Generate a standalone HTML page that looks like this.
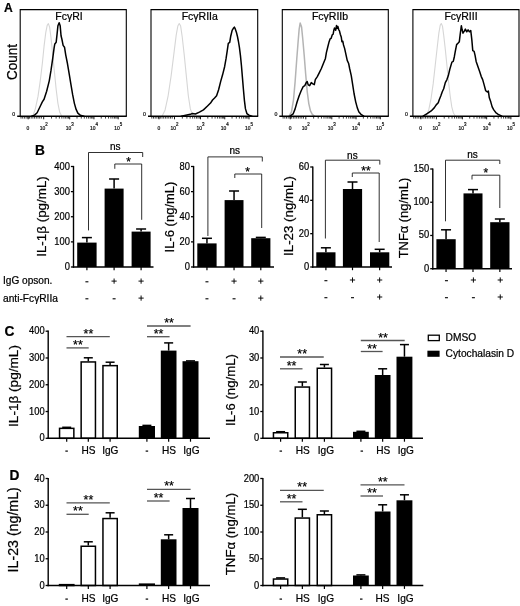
<!DOCTYPE html>
<html><head><meta charset="utf-8"><title>Figure</title>
<style>
html,body{margin:0;padding:0;background:#fff;}
body{width:520px;height:606px;overflow:hidden;font-family:"Liberation Sans", sans-serif;}
text{stroke:#000;stroke-width:0.22px;}
svg{display:block;font-family:"Liberation Sans", sans-serif;filter:blur(0.45px);}
</style></head><body>
<svg width="520" height="606" viewBox="0 0 520 606">
<rect x="0" y="0" width="520" height="606" fill="#fff"/>
<text transform="translate(4.00 11.80) scale(0.94 1)" x="0" y="0" font-size="12.9" text-anchor="start" font-weight="bold" fill="#000" >A</text>
<text transform="translate(16.90 62.00) rotate(-90) scale(0.93 1)" x="0" y="0" font-size="14.5" text-anchor="middle" font-weight="normal" fill="#000" >Count</text>
<polyline points="32.80,116.20 35.40,108.57 38.00,96.44 40.25,80.85 42.33,63.52 44.06,46.19 45.79,32.33 47.18,25.40 48.39,23.66 49.61,27.13 50.99,37.53 52.72,54.85 54.46,72.18 56.19,89.51 57.92,103.37 59.66,112.04 61.74,116.20" fill="none" stroke="#d6d6d6" stroke-width="1.1" stroke-linejoin="round" stroke-linecap="round"/>
<polyline points="31.58,116.20 34.53,115.16 37.13,112.73 40.60,105.45 42.33,101.81 44.06,99.21 46.66,91.24 49.26,80.85 50.99,70.45 52.72,58.32 54.11,47.92 54.80,43.94 56.19,42.20 57.06,34.06 57.92,25.74 59.14,22.80 60.18,25.74 61.04,35.79 61.91,39.26 63.12,45.32 64.51,47.23 65.72,54.85 67.45,63.52 69.19,73.92 70.92,84.31 72.65,94.71 74.38,103.37 76.12,109.44 77.85,113.08 80.45,115.33 83.92,116.20" fill="none" stroke="#000" stroke-width="1.5" stroke-linejoin="round" stroke-linecap="round"/>
<path d="M20.2,116.2 L20.2,9.6 L126.3,9.6 L126.3,116.2" fill="none" stroke="#000" stroke-width="1.1"/>
<line x1="17.20" y1="116.20" x2="126.80" y2="116.20" stroke="#000" stroke-width="1.45" />
<text x="69.00" y="19.90" font-size="10.5" text-anchor="middle" font-weight="normal" fill="#000" >FcγRI</text>
<text x="12.30" y="115.50" font-size="5.2" text-anchor="start" font-weight="normal" fill="#333" stroke="none">0</text>
<line x1="28.20" y1="116.20" x2="28.20" y2="119.30" stroke="#000" stroke-width="0.9" />
<line x1="43.70" y1="116.20" x2="43.70" y2="119.30" stroke="#000" stroke-width="0.9" />
<line x1="69.70" y1="116.20" x2="69.70" y2="119.30" stroke="#000" stroke-width="0.9" />
<line x1="93.95" y1="116.20" x2="93.95" y2="119.30" stroke="#000" stroke-width="0.9" />
<line x1="118.20" y1="116.20" x2="118.20" y2="119.30" stroke="#000" stroke-width="0.9" />
<line x1="51.53" y1="116.20" x2="51.53" y2="118.60" stroke="#000" stroke-width="0.75" />
<line x1="56.11" y1="116.20" x2="56.11" y2="118.60" stroke="#000" stroke-width="0.75" />
<line x1="59.35" y1="116.20" x2="59.35" y2="118.60" stroke="#000" stroke-width="0.75" />
<line x1="61.87" y1="116.20" x2="61.87" y2="118.60" stroke="#000" stroke-width="0.75" />
<line x1="63.93" y1="116.20" x2="63.93" y2="118.60" stroke="#000" stroke-width="0.75" />
<line x1="65.67" y1="116.20" x2="65.67" y2="118.60" stroke="#000" stroke-width="0.75" />
<line x1="67.18" y1="116.20" x2="67.18" y2="118.60" stroke="#000" stroke-width="0.75" />
<line x1="68.51" y1="116.20" x2="68.51" y2="118.60" stroke="#000" stroke-width="0.75" />
<line x1="77.00" y1="116.20" x2="77.00" y2="118.60" stroke="#000" stroke-width="0.75" />
<line x1="81.27" y1="116.20" x2="81.27" y2="118.60" stroke="#000" stroke-width="0.75" />
<line x1="84.30" y1="116.20" x2="84.30" y2="118.60" stroke="#000" stroke-width="0.75" />
<line x1="86.65" y1="116.20" x2="86.65" y2="118.60" stroke="#000" stroke-width="0.75" />
<line x1="88.57" y1="116.20" x2="88.57" y2="118.60" stroke="#000" stroke-width="0.75" />
<line x1="90.19" y1="116.20" x2="90.19" y2="118.60" stroke="#000" stroke-width="0.75" />
<line x1="91.60" y1="116.20" x2="91.60" y2="118.60" stroke="#000" stroke-width="0.75" />
<line x1="92.84" y1="116.20" x2="92.84" y2="118.60" stroke="#000" stroke-width="0.75" />
<line x1="101.25" y1="116.20" x2="101.25" y2="118.60" stroke="#000" stroke-width="0.75" />
<line x1="105.52" y1="116.20" x2="105.52" y2="118.60" stroke="#000" stroke-width="0.75" />
<line x1="108.55" y1="116.20" x2="108.55" y2="118.60" stroke="#000" stroke-width="0.75" />
<line x1="110.90" y1="116.20" x2="110.90" y2="118.60" stroke="#000" stroke-width="0.75" />
<line x1="112.82" y1="116.20" x2="112.82" y2="118.60" stroke="#000" stroke-width="0.75" />
<line x1="114.44" y1="116.20" x2="114.44" y2="118.60" stroke="#000" stroke-width="0.75" />
<line x1="115.85" y1="116.20" x2="115.85" y2="118.60" stroke="#000" stroke-width="0.75" />
<line x1="117.09" y1="116.20" x2="117.09" y2="118.60" stroke="#000" stroke-width="0.75" />
<line x1="21.00" y1="116.20" x2="21.00" y2="118.60" stroke="#000" stroke-width="0.75" />
<line x1="22.70" y1="116.20" x2="22.70" y2="118.60" stroke="#000" stroke-width="0.75" />
<line x1="24.40" y1="116.20" x2="24.40" y2="118.60" stroke="#000" stroke-width="0.75" />
<line x1="26.10" y1="116.20" x2="26.10" y2="118.60" stroke="#000" stroke-width="0.75" />
<line x1="27.80" y1="116.20" x2="27.80" y2="118.60" stroke="#000" stroke-width="0.75" />
<line x1="29.50" y1="116.20" x2="29.50" y2="118.60" stroke="#000" stroke-width="0.75" />
<line x1="31.20" y1="116.20" x2="31.20" y2="118.60" stroke="#000" stroke-width="0.75" />
<line x1="32.90" y1="116.20" x2="32.90" y2="118.60" stroke="#000" stroke-width="0.75" />
<line x1="34.60" y1="116.20" x2="34.60" y2="118.60" stroke="#000" stroke-width="0.75" />
<line x1="36.30" y1="116.20" x2="36.30" y2="118.60" stroke="#000" stroke-width="0.75" />
<line x1="38.00" y1="116.20" x2="38.00" y2="118.60" stroke="#000" stroke-width="0.75" />
<line x1="39.70" y1="116.20" x2="39.70" y2="118.60" stroke="#000" stroke-width="0.75" />
<line x1="41.40" y1="116.20" x2="41.40" y2="118.60" stroke="#000" stroke-width="0.75" />
<text transform="translate(28.00 129.60) scale(0.86 1)" x="0" y="0" font-size="5.8" text-anchor="middle" font-weight="normal" fill="#222" stroke="none">0</text>
<text transform="translate(42.50 129.60) scale(0.86 1)" x="0" y="0" font-size="5.8" text-anchor="middle" font-weight="normal" fill="#222" stroke="none">10</text>
<text transform="translate(45.20 126.40) scale(0.86 1)" x="0" y="0" font-size="5.2" text-anchor="start" font-weight="normal" fill="#222" stroke="none">2</text>
<text transform="translate(68.50 129.60) scale(0.86 1)" x="0" y="0" font-size="5.8" text-anchor="middle" font-weight="normal" fill="#222" stroke="none">10</text>
<text transform="translate(71.20 126.40) scale(0.86 1)" x="0" y="0" font-size="5.2" text-anchor="start" font-weight="normal" fill="#222" stroke="none">3</text>
<text transform="translate(92.75 129.60) scale(0.86 1)" x="0" y="0" font-size="5.8" text-anchor="middle" font-weight="normal" fill="#222" stroke="none">10</text>
<text transform="translate(95.45 126.40) scale(0.86 1)" x="0" y="0" font-size="5.2" text-anchor="start" font-weight="normal" fill="#222" stroke="none">4</text>
<text transform="translate(117.00 129.60) scale(0.86 1)" x="0" y="0" font-size="5.8" text-anchor="middle" font-weight="normal" fill="#222" stroke="none">10</text>
<text transform="translate(119.70 126.40) scale(0.86 1)" x="0" y="0" font-size="5.2" text-anchor="start" font-weight="normal" fill="#222" stroke="none">5</text>
<polyline points="162.07,116.17 165.10,109.91 168.13,95.78 171.16,75.58 174.18,51.35 176.20,35.19 177.82,26.11 179.23,23.48 180.65,26.11 182.26,37.21 184.28,55.39 186.30,75.58 188.32,95.78 190.34,108.90 192.36,114.35 194.38,116.17" fill="none" stroke="#d6d6d6" stroke-width="1.1" stroke-linejoin="round" stroke-linecap="round"/>
<polyline points="181.25,116.17 190.34,114.35 192.36,113.55 195.39,113.95 199.43,112.13 203.47,109.91 207.50,106.07 210.53,103.05 212.55,100.02 214.57,98.00 216.59,95.78 218.61,89.72 220.63,81.64 222.65,74.57 224.67,66.49 226.08,58.42 227.29,50.34 228.30,43.47 229.72,42.46 230.73,36.20 232.14,30.35 233.35,28.33 234.36,27.12 235.37,29.14 236.38,32.16 237.39,36.20 238.40,41.25 239.41,47.31 240.42,55.39 241.43,65.48 242.44,77.60 243.45,89.72 244.46,100.82 245.47,108.90 246.88,113.55 248.90,115.16 251.93,116.17" fill="none" stroke="#000" stroke-width="1.5" stroke-linejoin="round" stroke-linecap="round"/>
<path d="M151,116.2 L151,9.6 L257.7,9.6 L257.7,116.2" fill="none" stroke="#000" stroke-width="1.1"/>
<line x1="148.00" y1="116.20" x2="258.20" y2="116.20" stroke="#000" stroke-width="1.45" />
<text x="199.80" y="19.90" font-size="10.5" text-anchor="middle" font-weight="normal" fill="#000" >FcγRIIa</text>
<text x="143.10" y="115.50" font-size="5.2" text-anchor="start" font-weight="normal" fill="#333" stroke="none">0</text>
<line x1="159.00" y1="116.20" x2="159.00" y2="119.30" stroke="#000" stroke-width="0.9" />
<line x1="174.50" y1="116.20" x2="174.50" y2="119.30" stroke="#000" stroke-width="0.9" />
<line x1="200.50" y1="116.20" x2="200.50" y2="119.30" stroke="#000" stroke-width="0.9" />
<line x1="224.75" y1="116.20" x2="224.75" y2="119.30" stroke="#000" stroke-width="0.9" />
<line x1="249.00" y1="116.20" x2="249.00" y2="119.30" stroke="#000" stroke-width="0.9" />
<line x1="182.33" y1="116.20" x2="182.33" y2="118.60" stroke="#000" stroke-width="0.75" />
<line x1="186.91" y1="116.20" x2="186.91" y2="118.60" stroke="#000" stroke-width="0.75" />
<line x1="190.15" y1="116.20" x2="190.15" y2="118.60" stroke="#000" stroke-width="0.75" />
<line x1="192.67" y1="116.20" x2="192.67" y2="118.60" stroke="#000" stroke-width="0.75" />
<line x1="194.73" y1="116.20" x2="194.73" y2="118.60" stroke="#000" stroke-width="0.75" />
<line x1="196.47" y1="116.20" x2="196.47" y2="118.60" stroke="#000" stroke-width="0.75" />
<line x1="197.98" y1="116.20" x2="197.98" y2="118.60" stroke="#000" stroke-width="0.75" />
<line x1="199.31" y1="116.20" x2="199.31" y2="118.60" stroke="#000" stroke-width="0.75" />
<line x1="207.80" y1="116.20" x2="207.80" y2="118.60" stroke="#000" stroke-width="0.75" />
<line x1="212.07" y1="116.20" x2="212.07" y2="118.60" stroke="#000" stroke-width="0.75" />
<line x1="215.10" y1="116.20" x2="215.10" y2="118.60" stroke="#000" stroke-width="0.75" />
<line x1="217.45" y1="116.20" x2="217.45" y2="118.60" stroke="#000" stroke-width="0.75" />
<line x1="219.37" y1="116.20" x2="219.37" y2="118.60" stroke="#000" stroke-width="0.75" />
<line x1="220.99" y1="116.20" x2="220.99" y2="118.60" stroke="#000" stroke-width="0.75" />
<line x1="222.40" y1="116.20" x2="222.40" y2="118.60" stroke="#000" stroke-width="0.75" />
<line x1="223.64" y1="116.20" x2="223.64" y2="118.60" stroke="#000" stroke-width="0.75" />
<line x1="232.05" y1="116.20" x2="232.05" y2="118.60" stroke="#000" stroke-width="0.75" />
<line x1="236.32" y1="116.20" x2="236.32" y2="118.60" stroke="#000" stroke-width="0.75" />
<line x1="239.35" y1="116.20" x2="239.35" y2="118.60" stroke="#000" stroke-width="0.75" />
<line x1="241.70" y1="116.20" x2="241.70" y2="118.60" stroke="#000" stroke-width="0.75" />
<line x1="243.62" y1="116.20" x2="243.62" y2="118.60" stroke="#000" stroke-width="0.75" />
<line x1="245.24" y1="116.20" x2="245.24" y2="118.60" stroke="#000" stroke-width="0.75" />
<line x1="246.65" y1="116.20" x2="246.65" y2="118.60" stroke="#000" stroke-width="0.75" />
<line x1="247.89" y1="116.20" x2="247.89" y2="118.60" stroke="#000" stroke-width="0.75" />
<line x1="151.80" y1="116.20" x2="151.80" y2="118.60" stroke="#000" stroke-width="0.75" />
<line x1="153.50" y1="116.20" x2="153.50" y2="118.60" stroke="#000" stroke-width="0.75" />
<line x1="155.20" y1="116.20" x2="155.20" y2="118.60" stroke="#000" stroke-width="0.75" />
<line x1="156.90" y1="116.20" x2="156.90" y2="118.60" stroke="#000" stroke-width="0.75" />
<line x1="158.60" y1="116.20" x2="158.60" y2="118.60" stroke="#000" stroke-width="0.75" />
<line x1="160.30" y1="116.20" x2="160.30" y2="118.60" stroke="#000" stroke-width="0.75" />
<line x1="162.00" y1="116.20" x2="162.00" y2="118.60" stroke="#000" stroke-width="0.75" />
<line x1="163.70" y1="116.20" x2="163.70" y2="118.60" stroke="#000" stroke-width="0.75" />
<line x1="165.40" y1="116.20" x2="165.40" y2="118.60" stroke="#000" stroke-width="0.75" />
<line x1="167.10" y1="116.20" x2="167.10" y2="118.60" stroke="#000" stroke-width="0.75" />
<line x1="168.80" y1="116.20" x2="168.80" y2="118.60" stroke="#000" stroke-width="0.75" />
<line x1="170.50" y1="116.20" x2="170.50" y2="118.60" stroke="#000" stroke-width="0.75" />
<line x1="172.20" y1="116.20" x2="172.20" y2="118.60" stroke="#000" stroke-width="0.75" />
<text transform="translate(158.80 129.60) scale(0.86 1)" x="0" y="0" font-size="5.8" text-anchor="middle" font-weight="normal" fill="#222" stroke="none">0</text>
<text transform="translate(173.30 129.60) scale(0.86 1)" x="0" y="0" font-size="5.8" text-anchor="middle" font-weight="normal" fill="#222" stroke="none">10</text>
<text transform="translate(176.00 126.40) scale(0.86 1)" x="0" y="0" font-size="5.2" text-anchor="start" font-weight="normal" fill="#222" stroke="none">2</text>
<text transform="translate(199.30 129.60) scale(0.86 1)" x="0" y="0" font-size="5.8" text-anchor="middle" font-weight="normal" fill="#222" stroke="none">10</text>
<text transform="translate(202.00 126.40) scale(0.86 1)" x="0" y="0" font-size="5.2" text-anchor="start" font-weight="normal" fill="#222" stroke="none">3</text>
<text transform="translate(223.55 129.60) scale(0.86 1)" x="0" y="0" font-size="5.8" text-anchor="middle" font-weight="normal" fill="#222" stroke="none">10</text>
<text transform="translate(226.25 126.40) scale(0.86 1)" x="0" y="0" font-size="5.2" text-anchor="start" font-weight="normal" fill="#222" stroke="none">4</text>
<text transform="translate(247.80 129.60) scale(0.86 1)" x="0" y="0" font-size="5.8" text-anchor="middle" font-weight="normal" fill="#222" stroke="none">10</text>
<text transform="translate(250.50 126.40) scale(0.86 1)" x="0" y="0" font-size="5.2" text-anchor="start" font-weight="normal" fill="#222" stroke="none">5</text>
<polyline points="289.06,116.17 291.48,111.93 293.50,99.81 295.12,81.64 296.73,59.43 298.15,41.25 299.16,29.14 300.16,23.08 301.58,27.12 302.79,39.23 304.20,55.39 305.62,73.56 307.23,91.74 308.85,103.85 310.46,110.92 312.28,114.35 314.30,116.17" fill="none" stroke="#b4b4b4" stroke-width="1.5" stroke-linejoin="round" stroke-linecap="round"/>
<polyline points="290.07,116.17 293.10,113.95 295.12,108.90 297.14,101.83 299.16,95.78 301.17,90.73 303.19,86.69 304.81,85.68 306.22,82.65 307.23,81.64 308.24,84.87 309.66,85.68 311.27,82.65 312.89,83.86 314.30,84.67 315.31,79.62 317.33,76.59 319.35,72.55 321.37,68.51 323.39,63.47 325.41,58.42 326.44,52.42 327.77,47.03 329.12,41.66 330.07,38.95 331.14,38.28 332.21,34.91 333.16,34.24 333.83,30.21 334.51,27.92 335.18,29.54 335.73,30.21 336.53,25.50 337.34,28.19 337.87,26.57 338.67,29.54 339.48,30.87 340.29,34.24 341.24,36.93 341.91,41.66 342.85,41.37 343.52,45.01 344.61,48.38 347.22,60.44 348.63,63.47 349.64,68.51 351.26,75.58 352.67,84.67 354.08,93.76 355.70,101.83 357.31,107.89 358.93,111.93 360.95,114.35 363.78,116.17" fill="none" stroke="#000" stroke-width="1.5" stroke-linejoin="round" stroke-linecap="round"/>
<path d="M282.3,116.2 L282.3,9.6 L388.3,9.6 L388.3,116.2" fill="none" stroke="#000" stroke-width="1.1"/>
<line x1="279.30" y1="116.20" x2="388.80" y2="116.20" stroke="#000" stroke-width="1.45" />
<text x="330.00" y="19.90" font-size="10.5" text-anchor="middle" font-weight="normal" fill="#000" >FcγRIIb</text>
<text x="274.40" y="115.50" font-size="5.2" text-anchor="start" font-weight="normal" fill="#333" stroke="none">0</text>
<line x1="290.30" y1="116.20" x2="290.30" y2="119.30" stroke="#000" stroke-width="0.9" />
<line x1="305.80" y1="116.20" x2="305.80" y2="119.30" stroke="#000" stroke-width="0.9" />
<line x1="331.80" y1="116.20" x2="331.80" y2="119.30" stroke="#000" stroke-width="0.9" />
<line x1="356.05" y1="116.20" x2="356.05" y2="119.30" stroke="#000" stroke-width="0.9" />
<line x1="380.30" y1="116.20" x2="380.30" y2="119.30" stroke="#000" stroke-width="0.9" />
<line x1="313.63" y1="116.20" x2="313.63" y2="118.60" stroke="#000" stroke-width="0.75" />
<line x1="318.21" y1="116.20" x2="318.21" y2="118.60" stroke="#000" stroke-width="0.75" />
<line x1="321.45" y1="116.20" x2="321.45" y2="118.60" stroke="#000" stroke-width="0.75" />
<line x1="323.97" y1="116.20" x2="323.97" y2="118.60" stroke="#000" stroke-width="0.75" />
<line x1="326.03" y1="116.20" x2="326.03" y2="118.60" stroke="#000" stroke-width="0.75" />
<line x1="327.77" y1="116.20" x2="327.77" y2="118.60" stroke="#000" stroke-width="0.75" />
<line x1="329.28" y1="116.20" x2="329.28" y2="118.60" stroke="#000" stroke-width="0.75" />
<line x1="330.61" y1="116.20" x2="330.61" y2="118.60" stroke="#000" stroke-width="0.75" />
<line x1="339.10" y1="116.20" x2="339.10" y2="118.60" stroke="#000" stroke-width="0.75" />
<line x1="343.37" y1="116.20" x2="343.37" y2="118.60" stroke="#000" stroke-width="0.75" />
<line x1="346.40" y1="116.20" x2="346.40" y2="118.60" stroke="#000" stroke-width="0.75" />
<line x1="348.75" y1="116.20" x2="348.75" y2="118.60" stroke="#000" stroke-width="0.75" />
<line x1="350.67" y1="116.20" x2="350.67" y2="118.60" stroke="#000" stroke-width="0.75" />
<line x1="352.29" y1="116.20" x2="352.29" y2="118.60" stroke="#000" stroke-width="0.75" />
<line x1="353.70" y1="116.20" x2="353.70" y2="118.60" stroke="#000" stroke-width="0.75" />
<line x1="354.94" y1="116.20" x2="354.94" y2="118.60" stroke="#000" stroke-width="0.75" />
<line x1="363.35" y1="116.20" x2="363.35" y2="118.60" stroke="#000" stroke-width="0.75" />
<line x1="367.62" y1="116.20" x2="367.62" y2="118.60" stroke="#000" stroke-width="0.75" />
<line x1="370.65" y1="116.20" x2="370.65" y2="118.60" stroke="#000" stroke-width="0.75" />
<line x1="373.00" y1="116.20" x2="373.00" y2="118.60" stroke="#000" stroke-width="0.75" />
<line x1="374.92" y1="116.20" x2="374.92" y2="118.60" stroke="#000" stroke-width="0.75" />
<line x1="376.54" y1="116.20" x2="376.54" y2="118.60" stroke="#000" stroke-width="0.75" />
<line x1="377.95" y1="116.20" x2="377.95" y2="118.60" stroke="#000" stroke-width="0.75" />
<line x1="379.19" y1="116.20" x2="379.19" y2="118.60" stroke="#000" stroke-width="0.75" />
<line x1="283.10" y1="116.20" x2="283.10" y2="118.60" stroke="#000" stroke-width="0.75" />
<line x1="284.80" y1="116.20" x2="284.80" y2="118.60" stroke="#000" stroke-width="0.75" />
<line x1="286.50" y1="116.20" x2="286.50" y2="118.60" stroke="#000" stroke-width="0.75" />
<line x1="288.20" y1="116.20" x2="288.20" y2="118.60" stroke="#000" stroke-width="0.75" />
<line x1="289.90" y1="116.20" x2="289.90" y2="118.60" stroke="#000" stroke-width="0.75" />
<line x1="291.60" y1="116.20" x2="291.60" y2="118.60" stroke="#000" stroke-width="0.75" />
<line x1="293.30" y1="116.20" x2="293.30" y2="118.60" stroke="#000" stroke-width="0.75" />
<line x1="295.00" y1="116.20" x2="295.00" y2="118.60" stroke="#000" stroke-width="0.75" />
<line x1="296.70" y1="116.20" x2="296.70" y2="118.60" stroke="#000" stroke-width="0.75" />
<line x1="298.40" y1="116.20" x2="298.40" y2="118.60" stroke="#000" stroke-width="0.75" />
<line x1="300.10" y1="116.20" x2="300.10" y2="118.60" stroke="#000" stroke-width="0.75" />
<line x1="301.80" y1="116.20" x2="301.80" y2="118.60" stroke="#000" stroke-width="0.75" />
<line x1="303.50" y1="116.20" x2="303.50" y2="118.60" stroke="#000" stroke-width="0.75" />
<text transform="translate(290.10 129.60) scale(0.86 1)" x="0" y="0" font-size="5.8" text-anchor="middle" font-weight="normal" fill="#222" stroke="none">0</text>
<text transform="translate(304.60 129.60) scale(0.86 1)" x="0" y="0" font-size="5.8" text-anchor="middle" font-weight="normal" fill="#222" stroke="none">10</text>
<text transform="translate(307.30 126.40) scale(0.86 1)" x="0" y="0" font-size="5.2" text-anchor="start" font-weight="normal" fill="#222" stroke="none">2</text>
<text transform="translate(330.60 129.60) scale(0.86 1)" x="0" y="0" font-size="5.8" text-anchor="middle" font-weight="normal" fill="#222" stroke="none">10</text>
<text transform="translate(333.30 126.40) scale(0.86 1)" x="0" y="0" font-size="5.2" text-anchor="start" font-weight="normal" fill="#222" stroke="none">3</text>
<text transform="translate(354.85 129.60) scale(0.86 1)" x="0" y="0" font-size="5.8" text-anchor="middle" font-weight="normal" fill="#222" stroke="none">10</text>
<text transform="translate(357.55 126.40) scale(0.86 1)" x="0" y="0" font-size="5.2" text-anchor="start" font-weight="normal" fill="#222" stroke="none">4</text>
<text transform="translate(379.10 129.60) scale(0.86 1)" x="0" y="0" font-size="5.8" text-anchor="middle" font-weight="normal" fill="#222" stroke="none">10</text>
<text transform="translate(381.80 126.40) scale(0.86 1)" x="0" y="0" font-size="5.2" text-anchor="start" font-weight="normal" fill="#222" stroke="none">5</text>
<polyline points="426.13,116.17 428.75,109.91 431.17,97.79 433.19,83.66 435.21,65.48 437.23,47.31 438.85,33.17 440.26,25.10 441.27,23.48 442.48,26.11 443.69,35.19 445.31,49.33 446.93,65.48 448.54,81.64 450.16,95.78 451.77,106.88 453.39,112.94 455.41,116.17" fill="none" stroke="#d6d6d6" stroke-width="1.1" stroke-linejoin="round" stroke-linecap="round"/>
<polyline points="423.10,116.17 427.14,113.55 431.17,110.92 434.20,107.89 436.22,104.86 438.24,102.84 439.25,99.81 440.87,95.78 442.28,91.74 443.69,88.71 445.31,82.65 446.93,79.62 448.34,75.58 449.75,69.52 451.91,62.11 453.27,61.43 454.34,56.72 455.29,51.35 456.62,44.60 457.97,43.27 459.32,41.66 460.25,33.84 461.34,25.76 462.15,29.80 462.96,33.17 464.29,31.16 465.38,29.14 466.72,31.82 468.07,29.80 469.42,31.82 470.75,30.47 471.30,35.19 471.84,39.90 472.77,50.66 474.13,51.35 475.08,55.37 476.15,61.43 479.64,71.54 481.26,76.59 482.67,79.62 484.08,84.67 485.70,90.73 487.31,91.94 488.32,90.93 489.33,97.79 490.75,101.83 492.16,106.88 493.78,109.91 495.79,112.54 498.22,114.35 501.85,116.17" fill="none" stroke="#000" stroke-width="1.5" stroke-linejoin="round" stroke-linecap="round"/>
<path d="M412.9,116.2 L412.9,9.6 L519,9.6 L519,116.2" fill="none" stroke="#000" stroke-width="1.1"/>
<line x1="409.90" y1="116.20" x2="519.50" y2="116.20" stroke="#000" stroke-width="1.45" />
<text x="461.00" y="19.90" font-size="10.5" text-anchor="middle" font-weight="normal" fill="#000" >FcγRIII</text>
<text x="405.00" y="115.50" font-size="5.2" text-anchor="start" font-weight="normal" fill="#333" stroke="none">0</text>
<line x1="420.90" y1="116.20" x2="420.90" y2="119.30" stroke="#000" stroke-width="0.9" />
<line x1="436.40" y1="116.20" x2="436.40" y2="119.30" stroke="#000" stroke-width="0.9" />
<line x1="462.40" y1="116.20" x2="462.40" y2="119.30" stroke="#000" stroke-width="0.9" />
<line x1="486.65" y1="116.20" x2="486.65" y2="119.30" stroke="#000" stroke-width="0.9" />
<line x1="510.90" y1="116.20" x2="510.90" y2="119.30" stroke="#000" stroke-width="0.9" />
<line x1="444.23" y1="116.20" x2="444.23" y2="118.60" stroke="#000" stroke-width="0.75" />
<line x1="448.81" y1="116.20" x2="448.81" y2="118.60" stroke="#000" stroke-width="0.75" />
<line x1="452.05" y1="116.20" x2="452.05" y2="118.60" stroke="#000" stroke-width="0.75" />
<line x1="454.57" y1="116.20" x2="454.57" y2="118.60" stroke="#000" stroke-width="0.75" />
<line x1="456.63" y1="116.20" x2="456.63" y2="118.60" stroke="#000" stroke-width="0.75" />
<line x1="458.37" y1="116.20" x2="458.37" y2="118.60" stroke="#000" stroke-width="0.75" />
<line x1="459.88" y1="116.20" x2="459.88" y2="118.60" stroke="#000" stroke-width="0.75" />
<line x1="461.21" y1="116.20" x2="461.21" y2="118.60" stroke="#000" stroke-width="0.75" />
<line x1="469.70" y1="116.20" x2="469.70" y2="118.60" stroke="#000" stroke-width="0.75" />
<line x1="473.97" y1="116.20" x2="473.97" y2="118.60" stroke="#000" stroke-width="0.75" />
<line x1="477.00" y1="116.20" x2="477.00" y2="118.60" stroke="#000" stroke-width="0.75" />
<line x1="479.35" y1="116.20" x2="479.35" y2="118.60" stroke="#000" stroke-width="0.75" />
<line x1="481.27" y1="116.20" x2="481.27" y2="118.60" stroke="#000" stroke-width="0.75" />
<line x1="482.89" y1="116.20" x2="482.89" y2="118.60" stroke="#000" stroke-width="0.75" />
<line x1="484.30" y1="116.20" x2="484.30" y2="118.60" stroke="#000" stroke-width="0.75" />
<line x1="485.54" y1="116.20" x2="485.54" y2="118.60" stroke="#000" stroke-width="0.75" />
<line x1="493.95" y1="116.20" x2="493.95" y2="118.60" stroke="#000" stroke-width="0.75" />
<line x1="498.22" y1="116.20" x2="498.22" y2="118.60" stroke="#000" stroke-width="0.75" />
<line x1="501.25" y1="116.20" x2="501.25" y2="118.60" stroke="#000" stroke-width="0.75" />
<line x1="503.60" y1="116.20" x2="503.60" y2="118.60" stroke="#000" stroke-width="0.75" />
<line x1="505.52" y1="116.20" x2="505.52" y2="118.60" stroke="#000" stroke-width="0.75" />
<line x1="507.14" y1="116.20" x2="507.14" y2="118.60" stroke="#000" stroke-width="0.75" />
<line x1="508.55" y1="116.20" x2="508.55" y2="118.60" stroke="#000" stroke-width="0.75" />
<line x1="509.79" y1="116.20" x2="509.79" y2="118.60" stroke="#000" stroke-width="0.75" />
<line x1="413.70" y1="116.20" x2="413.70" y2="118.60" stroke="#000" stroke-width="0.75" />
<line x1="415.40" y1="116.20" x2="415.40" y2="118.60" stroke="#000" stroke-width="0.75" />
<line x1="417.10" y1="116.20" x2="417.10" y2="118.60" stroke="#000" stroke-width="0.75" />
<line x1="418.80" y1="116.20" x2="418.80" y2="118.60" stroke="#000" stroke-width="0.75" />
<line x1="420.50" y1="116.20" x2="420.50" y2="118.60" stroke="#000" stroke-width="0.75" />
<line x1="422.20" y1="116.20" x2="422.20" y2="118.60" stroke="#000" stroke-width="0.75" />
<line x1="423.90" y1="116.20" x2="423.90" y2="118.60" stroke="#000" stroke-width="0.75" />
<line x1="425.60" y1="116.20" x2="425.60" y2="118.60" stroke="#000" stroke-width="0.75" />
<line x1="427.30" y1="116.20" x2="427.30" y2="118.60" stroke="#000" stroke-width="0.75" />
<line x1="429.00" y1="116.20" x2="429.00" y2="118.60" stroke="#000" stroke-width="0.75" />
<line x1="430.70" y1="116.20" x2="430.70" y2="118.60" stroke="#000" stroke-width="0.75" />
<line x1="432.40" y1="116.20" x2="432.40" y2="118.60" stroke="#000" stroke-width="0.75" />
<line x1="434.10" y1="116.20" x2="434.10" y2="118.60" stroke="#000" stroke-width="0.75" />
<text transform="translate(420.70 129.60) scale(0.86 1)" x="0" y="0" font-size="5.8" text-anchor="middle" font-weight="normal" fill="#222" stroke="none">0</text>
<text transform="translate(435.20 129.60) scale(0.86 1)" x="0" y="0" font-size="5.8" text-anchor="middle" font-weight="normal" fill="#222" stroke="none">10</text>
<text transform="translate(437.90 126.40) scale(0.86 1)" x="0" y="0" font-size="5.2" text-anchor="start" font-weight="normal" fill="#222" stroke="none">2</text>
<text transform="translate(461.20 129.60) scale(0.86 1)" x="0" y="0" font-size="5.8" text-anchor="middle" font-weight="normal" fill="#222" stroke="none">10</text>
<text transform="translate(463.90 126.40) scale(0.86 1)" x="0" y="0" font-size="5.2" text-anchor="start" font-weight="normal" fill="#222" stroke="none">3</text>
<text transform="translate(485.45 129.60) scale(0.86 1)" x="0" y="0" font-size="5.8" text-anchor="middle" font-weight="normal" fill="#222" stroke="none">10</text>
<text transform="translate(488.15 126.40) scale(0.86 1)" x="0" y="0" font-size="5.2" text-anchor="start" font-weight="normal" fill="#222" stroke="none">4</text>
<text transform="translate(509.70 129.60) scale(0.86 1)" x="0" y="0" font-size="5.8" text-anchor="middle" font-weight="normal" fill="#222" stroke="none">10</text>
<text transform="translate(512.40 126.40) scale(0.86 1)" x="0" y="0" font-size="5.2" text-anchor="start" font-weight="normal" fill="#222" stroke="none">5</text>
<text transform="translate(35.00 155.30) scale(0.94 1)" x="0" y="0" font-size="14.6" text-anchor="start" font-weight="bold" fill="#000" >B</text>
<line x1="86.90" y1="242.60" x2="86.90" y2="237.60" stroke="#000" stroke-width="1.5" />
<line x1="81.90" y1="237.60" x2="91.90" y2="237.60" stroke="#000" stroke-width="1.5" />
<rect x="77.20" y="242.60" width="19.40" height="24.40" fill="#000"/>
<line x1="114.10" y1="188.60" x2="114.10" y2="179.00" stroke="#000" stroke-width="1.5" />
<line x1="109.10" y1="179.00" x2="119.10" y2="179.00" stroke="#000" stroke-width="1.5" />
<rect x="104.60" y="188.60" width="19.00" height="78.40" fill="#000"/>
<line x1="141.10" y1="231.60" x2="141.10" y2="229.00" stroke="#000" stroke-width="1.5" />
<line x1="136.10" y1="229.00" x2="146.10" y2="229.00" stroke="#000" stroke-width="1.5" />
<rect x="131.60" y="231.60" width="19.00" height="35.40" fill="#000"/>
<line x1="73.50" y1="165.90" x2="73.50" y2="267.70" stroke="#000" stroke-width="1.4" />
<line x1="72.80" y1="267.00" x2="153.50" y2="267.00" stroke="#000" stroke-width="1.4" />
<line x1="70.90" y1="267.00" x2="73.50" y2="267.00" stroke="#000" stroke-width="1.3" />
<text transform="translate(69.90 270.00) scale(0.9 1)" x="0" y="0" font-size="10.4" text-anchor="end" font-weight="normal" fill="#000" >0</text>
<line x1="70.90" y1="241.88" x2="73.50" y2="241.88" stroke="#000" stroke-width="1.3" />
<text transform="translate(69.90 244.88) scale(0.9 1)" x="0" y="0" font-size="10.4" text-anchor="end" font-weight="normal" fill="#000" >100</text>
<line x1="70.90" y1="216.75" x2="73.50" y2="216.75" stroke="#000" stroke-width="1.3" />
<text transform="translate(69.90 219.75) scale(0.9 1)" x="0" y="0" font-size="10.4" text-anchor="end" font-weight="normal" fill="#000" >200</text>
<line x1="70.90" y1="191.62" x2="73.50" y2="191.62" stroke="#000" stroke-width="1.3" />
<text transform="translate(69.90 194.62) scale(0.9 1)" x="0" y="0" font-size="10.4" text-anchor="end" font-weight="normal" fill="#000" >300</text>
<line x1="70.90" y1="166.50" x2="73.50" y2="166.50" stroke="#000" stroke-width="1.3" />
<text transform="translate(69.90 169.50) scale(0.9 1)" x="0" y="0" font-size="10.4" text-anchor="end" font-weight="normal" fill="#000" >400</text>
<line x1="86.90" y1="267.00" x2="86.90" y2="270.20" stroke="#000" stroke-width="1.2" />
<line x1="114.10" y1="267.00" x2="114.10" y2="270.20" stroke="#000" stroke-width="1.2" />
<line x1="141.10" y1="267.00" x2="141.10" y2="270.20" stroke="#000" stroke-width="1.2" />
<text x="46.20" y="216.50" font-size="13.4" text-anchor="middle" font-weight="normal" fill="#000" transform="rotate(-90 46.20 216.50)" >IL-1β (pg/mL)</text>
<path d="M88.5,230.4 L88.5,152.5 L142.7,152.5 L142.7,157" fill="none" stroke="#1a1a1a" stroke-width="0.9"/>
<path d="M114.8,168.8 L114.8,164 L141.7,164 L141.7,219.8" fill="none" stroke="#1a1a1a" stroke-width="0.9"/>
<text x="115.20" y="149.80" font-size="10" text-anchor="middle" font-weight="normal" fill="#000" >ns</text>
<text x="128.70" y="166.20" font-size="12" text-anchor="middle" font-weight="normal" fill="#000" >*</text>
<line x1="85.40" y1="281.80" x2="88.40" y2="281.80" stroke="#000" stroke-width="1.1" />
<line x1="85.40" y1="298.80" x2="88.40" y2="298.80" stroke="#000" stroke-width="1.1" />
<line x1="111.50" y1="281.10" x2="116.70" y2="281.10" stroke="#000" stroke-width="0.95" />
<line x1="114.10" y1="278.50" x2="114.10" y2="283.70" stroke="#000" stroke-width="0.95" />
<line x1="112.60" y1="298.80" x2="115.60" y2="298.80" stroke="#000" stroke-width="1.1" />
<line x1="138.50" y1="281.10" x2="143.70" y2="281.10" stroke="#000" stroke-width="0.95" />
<line x1="141.10" y1="278.50" x2="141.10" y2="283.70" stroke="#000" stroke-width="0.95" />
<line x1="138.50" y1="298.10" x2="143.70" y2="298.10" stroke="#000" stroke-width="0.95" />
<line x1="141.10" y1="295.50" x2="141.10" y2="300.70" stroke="#000" stroke-width="0.95" />
<line x1="206.95" y1="243.40" x2="206.95" y2="238.30" stroke="#000" stroke-width="1.5" />
<line x1="201.95" y1="238.30" x2="211.95" y2="238.30" stroke="#000" stroke-width="1.5" />
<rect x="197.30" y="243.40" width="19.30" height="23.60" fill="#000"/>
<line x1="234.05" y1="200.10" x2="234.05" y2="191.00" stroke="#000" stroke-width="1.5" />
<line x1="229.05" y1="191.00" x2="239.05" y2="191.00" stroke="#000" stroke-width="1.5" />
<rect x="224.60" y="200.10" width="18.90" height="66.90" fill="#000"/>
<line x1="260.80" y1="238.20" x2="260.80" y2="237.40" stroke="#000" stroke-width="1.5" />
<line x1="255.80" y1="237.40" x2="265.80" y2="237.40" stroke="#000" stroke-width="1.5" />
<rect x="251.20" y="238.20" width="19.20" height="28.80" fill="#000"/>
<line x1="193.60" y1="165.90" x2="193.60" y2="267.70" stroke="#000" stroke-width="1.4" />
<line x1="192.90" y1="267.00" x2="274.00" y2="267.00" stroke="#000" stroke-width="1.4" />
<line x1="191.00" y1="267.00" x2="193.60" y2="267.00" stroke="#000" stroke-width="1.3" />
<text transform="translate(190.00 270.00) scale(0.9 1)" x="0" y="0" font-size="10.4" text-anchor="end" font-weight="normal" fill="#000" >0</text>
<line x1="191.00" y1="241.88" x2="193.60" y2="241.88" stroke="#000" stroke-width="1.3" />
<text transform="translate(190.00 244.88) scale(0.9 1)" x="0" y="0" font-size="10.4" text-anchor="end" font-weight="normal" fill="#000" >20</text>
<line x1="191.00" y1="216.75" x2="193.60" y2="216.75" stroke="#000" stroke-width="1.3" />
<text transform="translate(190.00 219.75) scale(0.9 1)" x="0" y="0" font-size="10.4" text-anchor="end" font-weight="normal" fill="#000" >40</text>
<line x1="191.00" y1="191.62" x2="193.60" y2="191.62" stroke="#000" stroke-width="1.3" />
<text transform="translate(190.00 194.62) scale(0.9 1)" x="0" y="0" font-size="10.4" text-anchor="end" font-weight="normal" fill="#000" >60</text>
<line x1="191.00" y1="166.50" x2="193.60" y2="166.50" stroke="#000" stroke-width="1.3" />
<text transform="translate(190.00 169.50) scale(0.9 1)" x="0" y="0" font-size="10.4" text-anchor="end" font-weight="normal" fill="#000" >80</text>
<line x1="206.95" y1="267.00" x2="206.95" y2="270.20" stroke="#000" stroke-width="1.2" />
<line x1="234.05" y1="267.00" x2="234.05" y2="270.20" stroke="#000" stroke-width="1.2" />
<line x1="260.80" y1="267.00" x2="260.80" y2="270.20" stroke="#000" stroke-width="1.2" />
<text x="173.80" y="217.00" font-size="13" text-anchor="middle" font-weight="normal" fill="#000" transform="rotate(-90 173.80 217.00)" >IL-6 (ng/mL)</text>
<path d="M207.9,236 L207.9,156.9 L262.3,156.9 L262.3,161.5" fill="none" stroke="#1a1a1a" stroke-width="0.9"/>
<path d="M234.8,178 L234.8,174 L261.7,174 L261.7,228" fill="none" stroke="#1a1a1a" stroke-width="0.9"/>
<text x="234.80" y="154.40" font-size="10" text-anchor="middle" font-weight="normal" fill="#000" >ns</text>
<text x="247.70" y="176.00" font-size="12" text-anchor="middle" font-weight="normal" fill="#000" >*</text>
<line x1="205.45" y1="281.80" x2="208.45" y2="281.80" stroke="#000" stroke-width="1.1" />
<line x1="205.45" y1="298.80" x2="208.45" y2="298.80" stroke="#000" stroke-width="1.1" />
<line x1="231.45" y1="281.10" x2="236.65" y2="281.10" stroke="#000" stroke-width="0.95" />
<line x1="234.05" y1="278.50" x2="234.05" y2="283.70" stroke="#000" stroke-width="0.95" />
<line x1="232.55" y1="298.80" x2="235.55" y2="298.80" stroke="#000" stroke-width="1.1" />
<line x1="258.20" y1="281.10" x2="263.40" y2="281.10" stroke="#000" stroke-width="0.95" />
<line x1="260.80" y1="278.50" x2="260.80" y2="283.70" stroke="#000" stroke-width="0.95" />
<line x1="258.20" y1="298.10" x2="263.40" y2="298.10" stroke="#000" stroke-width="0.95" />
<line x1="260.80" y1="295.50" x2="260.80" y2="300.70" stroke="#000" stroke-width="0.95" />
<line x1="325.90" y1="252.30" x2="325.90" y2="247.80" stroke="#000" stroke-width="1.5" />
<line x1="320.90" y1="247.80" x2="330.90" y2="247.80" stroke="#000" stroke-width="1.5" />
<rect x="316.30" y="252.30" width="19.20" height="14.70" fill="#000"/>
<line x1="352.50" y1="189.00" x2="352.50" y2="182.00" stroke="#000" stroke-width="1.5" />
<line x1="347.50" y1="182.00" x2="357.50" y2="182.00" stroke="#000" stroke-width="1.5" />
<rect x="342.90" y="189.00" width="19.20" height="78.00" fill="#000"/>
<line x1="379.65" y1="252.30" x2="379.65" y2="249.30" stroke="#000" stroke-width="1.5" />
<line x1="374.65" y1="249.30" x2="384.65" y2="249.30" stroke="#000" stroke-width="1.5" />
<rect x="370.00" y="252.30" width="19.30" height="14.70" fill="#000"/>
<line x1="312.80" y1="166.40" x2="312.80" y2="267.70" stroke="#000" stroke-width="1.4" />
<line x1="312.10" y1="267.00" x2="392.00" y2="267.00" stroke="#000" stroke-width="1.4" />
<line x1="310.20" y1="267.00" x2="312.80" y2="267.00" stroke="#000" stroke-width="1.3" />
<text transform="translate(309.20 270.00) scale(0.9 1)" x="0" y="0" font-size="10.4" text-anchor="end" font-weight="normal" fill="#000" >0</text>
<line x1="310.20" y1="233.67" x2="312.80" y2="233.67" stroke="#000" stroke-width="1.3" />
<text transform="translate(309.20 236.67) scale(0.9 1)" x="0" y="0" font-size="10.4" text-anchor="end" font-weight="normal" fill="#000" >20</text>
<line x1="310.20" y1="200.33" x2="312.80" y2="200.33" stroke="#000" stroke-width="1.3" />
<text transform="translate(309.20 203.33) scale(0.9 1)" x="0" y="0" font-size="10.4" text-anchor="end" font-weight="normal" fill="#000" >40</text>
<line x1="310.20" y1="167.00" x2="312.80" y2="167.00" stroke="#000" stroke-width="1.3" />
<text transform="translate(309.20 170.00) scale(0.9 1)" x="0" y="0" font-size="10.4" text-anchor="end" font-weight="normal" fill="#000" >60</text>
<line x1="325.90" y1="267.00" x2="325.90" y2="270.20" stroke="#000" stroke-width="1.2" />
<line x1="352.50" y1="267.00" x2="352.50" y2="270.20" stroke="#000" stroke-width="1.2" />
<line x1="379.65" y1="267.00" x2="379.65" y2="270.20" stroke="#000" stroke-width="1.2" />
<text x="293.20" y="216.00" font-size="13.3" text-anchor="middle" font-weight="normal" fill="#000" transform="rotate(-90 293.20 216.00)" >IL-23 (ng/mL)</text>
<path d="M325.4,238.5 L325.4,160.2 L379.8,160.2 L379.8,164.6" fill="none" stroke="#1a1a1a" stroke-width="0.9"/>
<path d="M352.3,177 L352.3,173 L379.2,173 L379.2,242" fill="none" stroke="#1a1a1a" stroke-width="0.9"/>
<text x="352.40" y="158.80" font-size="10" text-anchor="middle" font-weight="normal" fill="#000" >ns</text>
<text x="365.90" y="175.20" font-size="12" text-anchor="middle" font-weight="normal" fill="#000" >**</text>
<line x1="324.40" y1="280.70" x2="327.40" y2="280.70" stroke="#000" stroke-width="1.1" />
<line x1="324.40" y1="297.70" x2="327.40" y2="297.70" stroke="#000" stroke-width="1.1" />
<line x1="349.90" y1="280.00" x2="355.10" y2="280.00" stroke="#000" stroke-width="0.95" />
<line x1="352.50" y1="277.40" x2="352.50" y2="282.60" stroke="#000" stroke-width="0.95" />
<line x1="351.00" y1="297.70" x2="354.00" y2="297.70" stroke="#000" stroke-width="1.1" />
<line x1="377.05" y1="280.00" x2="382.25" y2="280.00" stroke="#000" stroke-width="0.95" />
<line x1="379.65" y1="277.40" x2="379.65" y2="282.60" stroke="#000" stroke-width="0.95" />
<line x1="377.05" y1="297.00" x2="382.25" y2="297.00" stroke="#000" stroke-width="0.95" />
<line x1="379.65" y1="294.40" x2="379.65" y2="299.60" stroke="#000" stroke-width="0.95" />
<line x1="446.05" y1="239.20" x2="446.05" y2="229.80" stroke="#000" stroke-width="1.5" />
<line x1="441.05" y1="229.80" x2="451.05" y2="229.80" stroke="#000" stroke-width="1.5" />
<rect x="436.40" y="239.20" width="19.30" height="29.50" fill="#000"/>
<line x1="473.00" y1="193.40" x2="473.00" y2="189.60" stroke="#000" stroke-width="1.5" />
<line x1="468.00" y1="189.60" x2="478.00" y2="189.60" stroke="#000" stroke-width="1.5" />
<rect x="463.50" y="193.40" width="19.00" height="75.30" fill="#000"/>
<line x1="499.85" y1="222.20" x2="499.85" y2="219.00" stroke="#000" stroke-width="1.5" />
<line x1="494.85" y1="219.00" x2="504.85" y2="219.00" stroke="#000" stroke-width="1.5" />
<rect x="490.20" y="222.20" width="19.30" height="46.50" fill="#000"/>
<line x1="432.80" y1="168.40" x2="432.80" y2="269.40" stroke="#000" stroke-width="1.4" />
<line x1="432.10" y1="268.70" x2="512.00" y2="268.70" stroke="#000" stroke-width="1.4" />
<line x1="430.20" y1="268.70" x2="432.80" y2="268.70" stroke="#000" stroke-width="1.3" />
<text transform="translate(429.20 271.70) scale(0.9 1)" x="0" y="0" font-size="10.4" text-anchor="end" font-weight="normal" fill="#000" >0</text>
<line x1="430.20" y1="235.47" x2="432.80" y2="235.47" stroke="#000" stroke-width="1.3" />
<text transform="translate(429.20 238.47) scale(0.9 1)" x="0" y="0" font-size="10.4" text-anchor="end" font-weight="normal" fill="#000" >50</text>
<line x1="430.20" y1="202.23" x2="432.80" y2="202.23" stroke="#000" stroke-width="1.3" />
<text transform="translate(429.20 205.23) scale(0.9 1)" x="0" y="0" font-size="10.4" text-anchor="end" font-weight="normal" fill="#000" >100</text>
<line x1="430.20" y1="169.00" x2="432.80" y2="169.00" stroke="#000" stroke-width="1.3" />
<text transform="translate(429.20 172.00) scale(0.9 1)" x="0" y="0" font-size="10.4" text-anchor="end" font-weight="normal" fill="#000" >150</text>
<line x1="446.05" y1="268.70" x2="446.05" y2="271.90" stroke="#000" stroke-width="1.2" />
<line x1="473.00" y1="268.70" x2="473.00" y2="271.90" stroke="#000" stroke-width="1.2" />
<line x1="499.85" y1="268.70" x2="499.85" y2="271.90" stroke="#000" stroke-width="1.2" />
<text x="408.30" y="218.00" font-size="12.9" text-anchor="middle" font-weight="normal" fill="#000" transform="rotate(-90 408.30 218.00)" >TNFα (ng/mL)</text>
<path d="M445.5,221.3 L445.5,160.2 L499.8,160.2 L499.8,164" fill="none" stroke="#1a1a1a" stroke-width="0.9"/>
<path d="M472,179.5 L472,175.2 L499.8,175.2 L499.8,208" fill="none" stroke="#1a1a1a" stroke-width="0.9"/>
<text x="472.50" y="158.40" font-size="10" text-anchor="middle" font-weight="normal" fill="#000" >ns</text>
<text x="485.90" y="177.20" font-size="12" text-anchor="middle" font-weight="normal" fill="#000" >*</text>
<line x1="444.95" y1="280.70" x2="447.95" y2="280.70" stroke="#000" stroke-width="1.1" />
<line x1="444.95" y1="297.70" x2="447.95" y2="297.70" stroke="#000" stroke-width="1.1" />
<line x1="470.80" y1="280.00" x2="476.00" y2="280.00" stroke="#000" stroke-width="0.95" />
<line x1="473.40" y1="277.40" x2="473.40" y2="282.60" stroke="#000" stroke-width="0.95" />
<line x1="471.90" y1="297.70" x2="474.90" y2="297.70" stroke="#000" stroke-width="1.1" />
<line x1="497.65" y1="280.00" x2="502.85" y2="280.00" stroke="#000" stroke-width="0.95" />
<line x1="500.25" y1="277.40" x2="500.25" y2="282.60" stroke="#000" stroke-width="0.95" />
<line x1="497.65" y1="297.00" x2="502.85" y2="297.00" stroke="#000" stroke-width="0.95" />
<line x1="500.25" y1="294.40" x2="500.25" y2="299.60" stroke="#000" stroke-width="0.95" />
<text x="3.00" y="283.90" font-size="10.1" text-anchor="start" font-weight="normal" fill="#000" >IgG opson.</text>
<text x="3.00" y="302.10" font-size="10.2" text-anchor="start" font-weight="normal" fill="#000" >anti-FcγRIIa</text>
<text transform="translate(4.60 336.00) scale(0.94 1)" x="0" y="0" font-size="14.6" text-anchor="start" font-weight="bold" fill="#000" >C</text>
<line x1="66.70" y1="427.60" x2="66.70" y2="427.30" stroke="#000" stroke-width="1.5" />
<line x1="62.20" y1="427.30" x2="71.20" y2="427.30" stroke="#000" stroke-width="1.5" />
<rect x="59.55" y="428.35" width="14.30" height="9.95" fill="#fff" stroke="#000" stroke-width="1.5"/>
<line x1="88.30" y1="361.20" x2="88.30" y2="357.80" stroke="#000" stroke-width="1.5" />
<line x1="83.80" y1="357.80" x2="92.80" y2="357.80" stroke="#000" stroke-width="1.5" />
<rect x="81.15" y="361.95" width="14.30" height="76.35" fill="#fff" stroke="#000" stroke-width="1.5"/>
<line x1="110.10" y1="364.90" x2="110.10" y2="362.20" stroke="#000" stroke-width="1.5" />
<line x1="105.60" y1="362.20" x2="114.60" y2="362.20" stroke="#000" stroke-width="1.5" />
<rect x="102.95" y="365.65" width="14.30" height="72.65" fill="#fff" stroke="#000" stroke-width="1.5"/>
<line x1="146.90" y1="426.00" x2="146.90" y2="425.40" stroke="#000" stroke-width="1.5" />
<line x1="142.40" y1="425.40" x2="151.40" y2="425.40" stroke="#000" stroke-width="1.5" />
<rect x="138.80" y="426.00" width="16.20" height="12.30" fill="#000"/>
<line x1="168.65" y1="350.60" x2="168.65" y2="342.90" stroke="#000" stroke-width="1.5" />
<line x1="164.15" y1="342.90" x2="173.15" y2="342.90" stroke="#000" stroke-width="1.5" />
<rect x="160.80" y="350.60" width="15.70" height="87.70" fill="#000"/>
<line x1="190.50" y1="361.20" x2="190.50" y2="360.90" stroke="#000" stroke-width="1.5" />
<line x1="186.00" y1="360.90" x2="195.00" y2="360.90" stroke="#000" stroke-width="1.5" />
<rect x="182.50" y="361.20" width="16.00" height="77.10" fill="#000"/>
<line x1="48.20" y1="330.60" x2="48.20" y2="439.00" stroke="#000" stroke-width="1.4" />
<line x1="47.50" y1="438.30" x2="210.00" y2="438.30" stroke="#000" stroke-width="1.4" />
<line x1="45.60" y1="438.30" x2="48.20" y2="438.30" stroke="#000" stroke-width="1.3" />
<text transform="translate(44.60 441.30) scale(0.9 1)" x="0" y="0" font-size="10.4" text-anchor="end" font-weight="normal" fill="#000" >0</text>
<line x1="45.60" y1="411.52" x2="48.20" y2="411.52" stroke="#000" stroke-width="1.3" />
<text transform="translate(44.60 414.52) scale(0.9 1)" x="0" y="0" font-size="10.4" text-anchor="end" font-weight="normal" fill="#000" >100</text>
<line x1="45.60" y1="384.75" x2="48.20" y2="384.75" stroke="#000" stroke-width="1.3" />
<text transform="translate(44.60 387.75) scale(0.9 1)" x="0" y="0" font-size="10.4" text-anchor="end" font-weight="normal" fill="#000" >200</text>
<line x1="45.60" y1="357.98" x2="48.20" y2="357.98" stroke="#000" stroke-width="1.3" />
<text transform="translate(44.60 360.98) scale(0.9 1)" x="0" y="0" font-size="10.4" text-anchor="end" font-weight="normal" fill="#000" >300</text>
<line x1="45.60" y1="331.20" x2="48.20" y2="331.20" stroke="#000" stroke-width="1.3" />
<text transform="translate(44.60 334.20) scale(0.9 1)" x="0" y="0" font-size="10.4" text-anchor="end" font-weight="normal" fill="#000" >400</text>
<line x1="66.70" y1="438.30" x2="66.70" y2="441.70" stroke="#000" stroke-width="1.2" />
<line x1="88.30" y1="438.30" x2="88.30" y2="441.70" stroke="#000" stroke-width="1.2" />
<line x1="110.10" y1="438.30" x2="110.10" y2="441.70" stroke="#000" stroke-width="1.2" />
<line x1="146.90" y1="438.30" x2="146.90" y2="441.70" stroke="#000" stroke-width="1.2" />
<line x1="168.65" y1="438.30" x2="168.65" y2="441.70" stroke="#000" stroke-width="1.2" />
<line x1="190.50" y1="438.30" x2="190.50" y2="441.70" stroke="#000" stroke-width="1.2" />
<text x="17.80" y="386.00" font-size="13.6" text-anchor="middle" font-weight="normal" fill="#000" transform="rotate(-90 17.80 386.00)" >IL-1β (pg/mL)</text>
<line x1="65.35" y1="451.10" x2="67.85" y2="451.10" stroke="#000" stroke-width="1.2" />
<text x="88.60" y="453.50" font-size="10.1" text-anchor="middle" font-weight="normal" fill="#000" >HS</text>
<text x="110.30" y="453.50" font-size="10.1" text-anchor="middle" font-weight="normal" fill="#000" >IgG</text>
<line x1="145.65" y1="451.10" x2="148.15" y2="451.10" stroke="#000" stroke-width="1.2" />
<text x="168.90" y="453.50" font-size="10.1" text-anchor="middle" font-weight="normal" fill="#000" >HS</text>
<text x="191.40" y="453.50" font-size="10.1" text-anchor="middle" font-weight="normal" fill="#000" >IgG</text>
<line x1="66.50" y1="336.70" x2="109.80" y2="336.70" stroke="#555" stroke-width="1.3" />
<line x1="66.50" y1="347.90" x2="88.70" y2="347.90" stroke="#555" stroke-width="1.3" />
<text x="88.45" y="337.70" font-size="12.5" text-anchor="middle" font-weight="normal" fill="#000" >**</text>
<text x="77.90" y="348.90" font-size="12.5" text-anchor="middle" font-weight="normal" fill="#000" >**</text>
<line x1="147.00" y1="326.00" x2="190.60" y2="326.00" stroke="#555" stroke-width="1.3" />
<line x1="147.00" y1="336.70" x2="169.60" y2="336.70" stroke="#555" stroke-width="1.3" />
<text x="169.10" y="327.00" font-size="12.5" text-anchor="middle" font-weight="normal" fill="#000" >**</text>
<text x="158.60" y="337.70" font-size="12.5" text-anchor="middle" font-weight="normal" fill="#000" >**</text>
<line x1="280.60" y1="432.00" x2="280.60" y2="431.70" stroke="#000" stroke-width="1.5" />
<line x1="276.10" y1="431.70" x2="285.10" y2="431.70" stroke="#000" stroke-width="1.5" />
<rect x="273.45" y="432.75" width="14.30" height="5.55" fill="#fff" stroke="#000" stroke-width="1.5"/>
<line x1="302.35" y1="386.30" x2="302.35" y2="382.00" stroke="#000" stroke-width="1.5" />
<line x1="297.85" y1="382.00" x2="306.85" y2="382.00" stroke="#000" stroke-width="1.5" />
<rect x="295.25" y="387.05" width="14.20" height="51.25" fill="#fff" stroke="#000" stroke-width="1.5"/>
<line x1="324.40" y1="367.50" x2="324.40" y2="364.50" stroke="#000" stroke-width="1.5" />
<line x1="319.90" y1="364.50" x2="328.90" y2="364.50" stroke="#000" stroke-width="1.5" />
<rect x="317.25" y="368.25" width="14.30" height="70.05" fill="#fff" stroke="#000" stroke-width="1.5"/>
<line x1="360.90" y1="431.80" x2="360.90" y2="431.30" stroke="#000" stroke-width="1.5" />
<line x1="356.40" y1="431.30" x2="365.40" y2="431.30" stroke="#000" stroke-width="1.5" />
<rect x="353.00" y="431.80" width="15.80" height="6.50" fill="#000"/>
<line x1="382.65" y1="375.00" x2="382.65" y2="368.80" stroke="#000" stroke-width="1.5" />
<line x1="378.15" y1="368.80" x2="387.15" y2="368.80" stroke="#000" stroke-width="1.5" />
<rect x="374.80" y="375.00" width="15.70" height="63.30" fill="#000"/>
<line x1="404.45" y1="356.70" x2="404.45" y2="344.60" stroke="#000" stroke-width="1.5" />
<line x1="399.95" y1="344.60" x2="408.95" y2="344.60" stroke="#000" stroke-width="1.5" />
<rect x="396.50" y="356.70" width="15.90" height="81.60" fill="#000"/>
<line x1="262.90" y1="330.60" x2="262.90" y2="439.00" stroke="#000" stroke-width="1.4" />
<line x1="262.20" y1="438.30" x2="423.00" y2="438.30" stroke="#000" stroke-width="1.4" />
<line x1="260.30" y1="438.30" x2="262.90" y2="438.30" stroke="#000" stroke-width="1.3" />
<text transform="translate(259.30 441.30) scale(0.9 1)" x="0" y="0" font-size="10.4" text-anchor="end" font-weight="normal" fill="#000" >0</text>
<line x1="260.30" y1="411.52" x2="262.90" y2="411.52" stroke="#000" stroke-width="1.3" />
<text transform="translate(259.30 414.52) scale(0.9 1)" x="0" y="0" font-size="10.4" text-anchor="end" font-weight="normal" fill="#000" >10</text>
<line x1="260.30" y1="384.75" x2="262.90" y2="384.75" stroke="#000" stroke-width="1.3" />
<text transform="translate(259.30 387.75) scale(0.9 1)" x="0" y="0" font-size="10.4" text-anchor="end" font-weight="normal" fill="#000" >20</text>
<line x1="260.30" y1="357.98" x2="262.90" y2="357.98" stroke="#000" stroke-width="1.3" />
<text transform="translate(259.30 360.98) scale(0.9 1)" x="0" y="0" font-size="10.4" text-anchor="end" font-weight="normal" fill="#000" >30</text>
<line x1="260.30" y1="331.20" x2="262.90" y2="331.20" stroke="#000" stroke-width="1.3" />
<text transform="translate(259.30 334.20) scale(0.9 1)" x="0" y="0" font-size="10.4" text-anchor="end" font-weight="normal" fill="#000" >40</text>
<line x1="280.60" y1="438.30" x2="280.60" y2="441.70" stroke="#000" stroke-width="1.2" />
<line x1="302.35" y1="438.30" x2="302.35" y2="441.70" stroke="#000" stroke-width="1.2" />
<line x1="324.40" y1="438.30" x2="324.40" y2="441.70" stroke="#000" stroke-width="1.2" />
<line x1="360.90" y1="438.30" x2="360.90" y2="441.70" stroke="#000" stroke-width="1.2" />
<line x1="382.65" y1="438.30" x2="382.65" y2="441.70" stroke="#000" stroke-width="1.2" />
<line x1="404.45" y1="438.30" x2="404.45" y2="441.70" stroke="#000" stroke-width="1.2" />
<text x="234.80" y="390.00" font-size="13.2" text-anchor="middle" font-weight="normal" fill="#000" transform="rotate(-90 234.80 390.00)" >IL-6 (ng/mL)</text>
<line x1="279.55" y1="451.10" x2="282.05" y2="451.10" stroke="#000" stroke-width="1.2" />
<text x="302.70" y="453.50" font-size="10.1" text-anchor="middle" font-weight="normal" fill="#000" >HS</text>
<text x="325.90" y="453.50" font-size="10.1" text-anchor="middle" font-weight="normal" fill="#000" >IgG</text>
<line x1="360.55" y1="451.10" x2="363.05" y2="451.10" stroke="#000" stroke-width="1.2" />
<text x="383.30" y="453.50" font-size="10.1" text-anchor="middle" font-weight="normal" fill="#000" >HS</text>
<text x="405.80" y="453.50" font-size="10.1" text-anchor="middle" font-weight="normal" fill="#000" >IgG</text>
<line x1="280.00" y1="357.00" x2="323.75" y2="357.00" stroke="#555" stroke-width="1.3" />
<line x1="280.00" y1="368.80" x2="302.50" y2="368.80" stroke="#555" stroke-width="1.3" />
<text x="302.18" y="358.00" font-size="12.5" text-anchor="middle" font-weight="normal" fill="#000" >**</text>
<text x="291.55" y="369.80" font-size="12.5" text-anchor="middle" font-weight="normal" fill="#000" >**</text>
<line x1="360.80" y1="340.50" x2="404.70" y2="340.50" stroke="#555" stroke-width="1.3" />
<line x1="360.80" y1="351.50" x2="382.60" y2="351.50" stroke="#555" stroke-width="1.3" />
<text x="383.05" y="341.50" font-size="12.5" text-anchor="middle" font-weight="normal" fill="#000" >**</text>
<text x="372.00" y="352.50" font-size="12.5" text-anchor="middle" font-weight="normal" fill="#000" >**</text>
<rect x="428.3" y="335.2" width="11" height="5.4" fill="#fff" stroke="#000" stroke-width="1.3"/>
<text x="445.60" y="340.90" font-size="10.2" text-anchor="start" font-weight="normal" fill="#000" >DMSO</text>
<rect x="427.4" y="350.7" width="12.2" height="6.1" fill="#000"/>
<text x="445.60" y="357.30" font-size="10.2" text-anchor="start" font-weight="normal" fill="#000" >Cytochalasin D</text>
<text transform="translate(9.50 479.50) scale(0.94 1)" x="0" y="0" font-size="14.6" text-anchor="start" font-weight="bold" fill="#000" >D</text>
<rect x="59.55" y="584.65" width="14.30" height="0.85" fill="#fff" stroke="#000" stroke-width="1.5"/>
<line x1="88.30" y1="545.50" x2="88.30" y2="541.80" stroke="#000" stroke-width="1.5" />
<line x1="83.80" y1="541.80" x2="92.80" y2="541.80" stroke="#000" stroke-width="1.5" />
<rect x="81.15" y="546.25" width="14.30" height="39.25" fill="#fff" stroke="#000" stroke-width="1.5"/>
<line x1="110.10" y1="517.80" x2="110.10" y2="512.80" stroke="#000" stroke-width="1.5" />
<line x1="105.60" y1="512.80" x2="114.60" y2="512.80" stroke="#000" stroke-width="1.5" />
<rect x="102.95" y="518.55" width="14.30" height="66.95" fill="#fff" stroke="#000" stroke-width="1.5"/>
<rect x="138.80" y="583.40" width="16.20" height="2.10" fill="#000"/>
<line x1="168.65" y1="539.30" x2="168.65" y2="534.80" stroke="#000" stroke-width="1.5" />
<line x1="164.15" y1="534.80" x2="173.15" y2="534.80" stroke="#000" stroke-width="1.5" />
<rect x="160.80" y="539.30" width="15.70" height="46.20" fill="#000"/>
<line x1="190.50" y1="508.00" x2="190.50" y2="498.50" stroke="#000" stroke-width="1.5" />
<line x1="186.00" y1="498.50" x2="195.00" y2="498.50" stroke="#000" stroke-width="1.5" />
<rect x="182.50" y="508.00" width="16.00" height="77.50" fill="#000"/>
<line x1="48.20" y1="477.90" x2="48.20" y2="586.20" stroke="#000" stroke-width="1.4" />
<line x1="47.50" y1="585.50" x2="210.00" y2="585.50" stroke="#000" stroke-width="1.4" />
<line x1="45.60" y1="585.50" x2="48.20" y2="585.50" stroke="#000" stroke-width="1.3" />
<text transform="translate(44.60 588.50) scale(0.9 1)" x="0" y="0" font-size="10.4" text-anchor="end" font-weight="normal" fill="#000" >0</text>
<line x1="45.60" y1="558.75" x2="48.20" y2="558.75" stroke="#000" stroke-width="1.3" />
<text transform="translate(44.60 561.75) scale(0.9 1)" x="0" y="0" font-size="10.4" text-anchor="end" font-weight="normal" fill="#000" >10</text>
<line x1="45.60" y1="532.00" x2="48.20" y2="532.00" stroke="#000" stroke-width="1.3" />
<text transform="translate(44.60 535.00) scale(0.9 1)" x="0" y="0" font-size="10.4" text-anchor="end" font-weight="normal" fill="#000" >20</text>
<line x1="45.60" y1="505.25" x2="48.20" y2="505.25" stroke="#000" stroke-width="1.3" />
<text transform="translate(44.60 508.25) scale(0.9 1)" x="0" y="0" font-size="10.4" text-anchor="end" font-weight="normal" fill="#000" >30</text>
<line x1="45.60" y1="478.50" x2="48.20" y2="478.50" stroke="#000" stroke-width="1.3" />
<text transform="translate(44.60 481.50) scale(0.9 1)" x="0" y="0" font-size="10.4" text-anchor="end" font-weight="normal" fill="#000" >40</text>
<line x1="66.70" y1="585.50" x2="66.70" y2="588.90" stroke="#000" stroke-width="1.2" />
<line x1="88.30" y1="585.50" x2="88.30" y2="588.90" stroke="#000" stroke-width="1.2" />
<line x1="110.10" y1="585.50" x2="110.10" y2="588.90" stroke="#000" stroke-width="1.2" />
<line x1="146.90" y1="585.50" x2="146.90" y2="588.90" stroke="#000" stroke-width="1.2" />
<line x1="168.65" y1="585.50" x2="168.65" y2="588.90" stroke="#000" stroke-width="1.2" />
<line x1="190.50" y1="585.50" x2="190.50" y2="588.90" stroke="#000" stroke-width="1.2" />
<text x="17.80" y="529.80" font-size="14.2" text-anchor="middle" font-weight="normal" fill="#000" transform="rotate(-90 17.80 529.80)" >IL-23 (ng/mL)</text>
<line x1="65.35" y1="599.10" x2="67.85" y2="599.10" stroke="#000" stroke-width="1.2" />
<text x="88.60" y="601.50" font-size="10.1" text-anchor="middle" font-weight="normal" fill="#000" >HS</text>
<text x="110.30" y="601.50" font-size="10.1" text-anchor="middle" font-weight="normal" fill="#000" >IgG</text>
<line x1="145.65" y1="599.10" x2="148.15" y2="599.10" stroke="#000" stroke-width="1.2" />
<text x="168.90" y="601.50" font-size="10.1" text-anchor="middle" font-weight="normal" fill="#000" >HS</text>
<text x="191.40" y="601.50" font-size="10.1" text-anchor="middle" font-weight="normal" fill="#000" >IgG</text>
<line x1="66.50" y1="502.80" x2="109.80" y2="502.80" stroke="#555" stroke-width="1.3" />
<line x1="66.50" y1="514.30" x2="88.70" y2="514.30" stroke="#555" stroke-width="1.3" />
<text x="88.45" y="503.80" font-size="12.5" text-anchor="middle" font-weight="normal" fill="#000" >**</text>
<text x="77.90" y="515.30" font-size="12.5" text-anchor="middle" font-weight="normal" fill="#000" >**</text>
<line x1="147.00" y1="489.30" x2="190.60" y2="489.30" stroke="#555" stroke-width="1.3" />
<line x1="147.00" y1="501.00" x2="169.60" y2="501.00" stroke="#555" stroke-width="1.3" />
<text x="169.10" y="490.30" font-size="12.5" text-anchor="middle" font-weight="normal" fill="#000" >**</text>
<text x="158.60" y="502.00" font-size="12.5" text-anchor="middle" font-weight="normal" fill="#000" >**</text>
<line x1="280.60" y1="578.30" x2="280.60" y2="577.90" stroke="#000" stroke-width="1.5" />
<line x1="276.10" y1="577.90" x2="285.10" y2="577.90" stroke="#000" stroke-width="1.5" />
<rect x="273.45" y="579.05" width="14.30" height="6.45" fill="#fff" stroke="#000" stroke-width="1.5"/>
<line x1="302.35" y1="517.30" x2="302.35" y2="509.30" stroke="#000" stroke-width="1.5" />
<line x1="297.85" y1="509.30" x2="306.85" y2="509.30" stroke="#000" stroke-width="1.5" />
<rect x="295.25" y="518.05" width="14.20" height="67.45" fill="#fff" stroke="#000" stroke-width="1.5"/>
<line x1="324.40" y1="514.00" x2="324.40" y2="511.00" stroke="#000" stroke-width="1.5" />
<line x1="319.90" y1="511.00" x2="328.90" y2="511.00" stroke="#000" stroke-width="1.5" />
<rect x="317.25" y="514.75" width="14.30" height="70.75" fill="#fff" stroke="#000" stroke-width="1.5"/>
<line x1="360.90" y1="575.50" x2="360.90" y2="574.90" stroke="#000" stroke-width="1.5" />
<line x1="356.40" y1="574.90" x2="365.40" y2="574.90" stroke="#000" stroke-width="1.5" />
<rect x="353.00" y="575.50" width="15.80" height="10.00" fill="#000"/>
<line x1="382.65" y1="511.50" x2="382.65" y2="504.80" stroke="#000" stroke-width="1.5" />
<line x1="378.15" y1="504.80" x2="387.15" y2="504.80" stroke="#000" stroke-width="1.5" />
<rect x="374.80" y="511.50" width="15.70" height="74.00" fill="#000"/>
<line x1="404.45" y1="500.30" x2="404.45" y2="494.80" stroke="#000" stroke-width="1.5" />
<line x1="399.95" y1="494.80" x2="408.95" y2="494.80" stroke="#000" stroke-width="1.5" />
<rect x="396.50" y="500.30" width="15.90" height="85.20" fill="#000"/>
<line x1="262.90" y1="477.90" x2="262.90" y2="586.20" stroke="#000" stroke-width="1.4" />
<line x1="262.20" y1="585.50" x2="423.30" y2="585.50" stroke="#000" stroke-width="1.4" />
<line x1="260.30" y1="585.50" x2="262.90" y2="585.50" stroke="#000" stroke-width="1.3" />
<text transform="translate(259.30 588.50) scale(0.9 1)" x="0" y="0" font-size="10.4" text-anchor="end" font-weight="normal" fill="#000" >0</text>
<line x1="260.30" y1="558.75" x2="262.90" y2="558.75" stroke="#000" stroke-width="1.3" />
<text transform="translate(259.30 561.75) scale(0.9 1)" x="0" y="0" font-size="10.4" text-anchor="end" font-weight="normal" fill="#000" >50</text>
<line x1="260.30" y1="532.00" x2="262.90" y2="532.00" stroke="#000" stroke-width="1.3" />
<text transform="translate(259.30 535.00) scale(0.9 1)" x="0" y="0" font-size="10.4" text-anchor="end" font-weight="normal" fill="#000" >100</text>
<line x1="260.30" y1="505.25" x2="262.90" y2="505.25" stroke="#000" stroke-width="1.3" />
<text transform="translate(259.30 508.25) scale(0.9 1)" x="0" y="0" font-size="10.4" text-anchor="end" font-weight="normal" fill="#000" >150</text>
<line x1="260.30" y1="478.50" x2="262.90" y2="478.50" stroke="#000" stroke-width="1.3" />
<text transform="translate(259.30 481.50) scale(0.9 1)" x="0" y="0" font-size="10.4" text-anchor="end" font-weight="normal" fill="#000" >200</text>
<line x1="280.60" y1="585.50" x2="280.60" y2="588.90" stroke="#000" stroke-width="1.2" />
<line x1="302.35" y1="585.50" x2="302.35" y2="588.90" stroke="#000" stroke-width="1.2" />
<line x1="324.40" y1="585.50" x2="324.40" y2="588.90" stroke="#000" stroke-width="1.2" />
<line x1="360.90" y1="585.50" x2="360.90" y2="588.90" stroke="#000" stroke-width="1.2" />
<line x1="382.65" y1="585.50" x2="382.65" y2="588.90" stroke="#000" stroke-width="1.2" />
<line x1="404.45" y1="585.50" x2="404.45" y2="588.90" stroke="#000" stroke-width="1.2" />
<text x="234.80" y="534.00" font-size="13.2" text-anchor="middle" font-weight="normal" fill="#000" transform="rotate(-90 234.80 534.00)" >TNFα (ng/mL)</text>
<line x1="279.55" y1="599.10" x2="282.05" y2="599.10" stroke="#000" stroke-width="1.2" />
<text x="302.70" y="601.50" font-size="10.1" text-anchor="middle" font-weight="normal" fill="#000" >HS</text>
<text x="325.90" y="601.50" font-size="10.1" text-anchor="middle" font-weight="normal" fill="#000" >IgG</text>
<line x1="360.00" y1="599.10" x2="362.50" y2="599.10" stroke="#000" stroke-width="1.2" />
<text x="382.50" y="601.50" font-size="10.1" text-anchor="middle" font-weight="normal" fill="#000" >HS</text>
<text x="405.50" y="601.50" font-size="10.1" text-anchor="middle" font-weight="normal" fill="#000" >IgG</text>
<line x1="280.00" y1="490.30" x2="323.75" y2="490.30" stroke="#555" stroke-width="1.3" />
<line x1="280.00" y1="501.80" x2="302.50" y2="501.80" stroke="#555" stroke-width="1.3" />
<text x="302.18" y="491.30" font-size="12.5" text-anchor="middle" font-weight="normal" fill="#000" >**</text>
<text x="291.55" y="502.80" font-size="12.5" text-anchor="middle" font-weight="normal" fill="#000" >**</text>
<line x1="360.50" y1="484.80" x2="404.50" y2="484.80" stroke="#555" stroke-width="1.3" />
<line x1="360.50" y1="496.00" x2="383.00" y2="496.00" stroke="#555" stroke-width="1.3" />
<text x="382.80" y="485.80" font-size="12.5" text-anchor="middle" font-weight="normal" fill="#000" >**</text>
<text x="372.05" y="497.00" font-size="12.5" text-anchor="middle" font-weight="normal" fill="#000" >**</text>
</svg>
</body></html>
